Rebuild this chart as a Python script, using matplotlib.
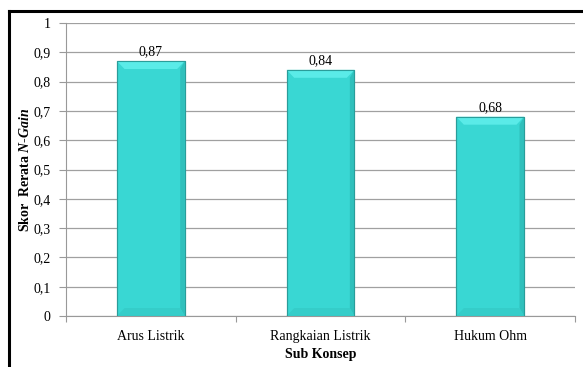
import matplotlib
matplotlib.use("Agg")
import matplotlib.pyplot as plt
from matplotlib.patches import Polygon
from matplotlib.lines import Line2D
from matplotlib.ticker import FuncFormatter, FixedLocator
import numpy as np

categories = ["Arus Listrik", "Rangkaian Listrik", "Hukum Ohm"]
scores = [0.87, 0.84, 0.68]
value_labels = ["0,87", "0,84", "0,68"]

plt.rcParams["font.family"] = ["Liberation Serif", "DejaVu Serif"]
plt.rcParams["mathtext.fontset"] = "custom"
plt.rcParams["mathtext.rm"] = "Liberation Serif"
plt.rcParams["mathtext.it"] = "Liberation Serif:italic"
plt.rcParams["mathtext.bf"] = "Liberation Serif:bold"
plt.rcParams["mathtext.bfit"] = "Liberation Serif:italic:bold"

fig = plt.figure(figsize=(5.83, 3.67), dpi=100)
ax = fig.add_axes([66 / 583, 51 / 367, 509 / 583, 293 / 367])

x = np.arange(len(categories))
width = 0.4
face = "#39d7d3"
ax.bar(x, scores, width=width, color=face, edgecolor="#2a9d9a", linewidth=0.8, zorder=3)

# bevel look: light top cap, darker right side
bx = 0.045
by = 0.027
for xi, v in zip(x, scores):
    l, r = xi - width / 2, xi + width / 2
    top = Polygon([(l, v), (r, v), (r - bx, v - by), (l + bx, v - by)],
                  closed=True, facecolor="#5aebe8", edgecolor="none", zorder=4)
    ax.add_patch(top)
    side = Polygon([(r, v), (r, 0), (r - bx * 0.6, by), (r - bx * 0.6, v - by)],
                   closed=True, facecolor="#30c0bc", edgecolor="none", zorder=4)
    ax.add_patch(side)
    bot = Polygon([(l, 0), (r, 0), (r - bx * 0.6, by), (l + bx, by)],
                  closed=True, facecolor="#35cdc9", edgecolor="none", zorder=4)
    ax.add_patch(bot)
    ax.add_patch(Polygon([(l, 0), (l, v), (r, v), (r, 0)], closed=True, fill=False,
                         edgecolor="#2a9d9a", linewidth=0.8, zorder=5))

for xi, v, lab in zip(x, scores, value_labels):
    ax.annotate(lab, (xi, v), xytext=(0, 2), textcoords="offset points",
                ha="center", va="bottom", fontsize=10)

ax.set_xlim(-0.5, len(categories) - 0.5)
ax.set_ylim(0, 1)
ax.set_yticks(np.arange(0, 1.01, 0.1))
ax.yaxis.set_major_formatter(FuncFormatter(
    lambda v, p: "0" if abs(v) < 1e-9 else ("1" if abs(v - 1) < 1e-9 else ("%.1f" % v).replace(".", ","))))
ax.set_xticks(x)
ax.set_xticklabels(categories)
ax.xaxis.set_minor_locator(FixedLocator(np.arange(-0.5, len(categories), 1.0)))
ax.tick_params(axis="x", which="major", length=0, pad=10, labelsize=10)
ax.tick_params(axis="x", which="minor", length=4, color="#999999", width=0.8)
ax.tick_params(axis="y", length=5, color="#999999", width=0.8, labelsize=10, pad=6)

ax.grid(axis="y", color="#a0a0a0", linewidth=0.9, zorder=0)
for s in ["top", "right"]:
    ax.spines[s].set_visible(False)
ax.spines["left"].set_color("#999999")
ax.spines["bottom"].set_color("#999999")
ax.spines["left"].set_linewidth(0.8)
ax.spines["bottom"].set_linewidth(0.8)

ax.set_xlabel("Sub Konsep", fontsize=10, fontweight="bold", labelpad=4)
ax.set_ylabel(r"Skor  Rerata $\mathbfit{N}$-$\mathbfit{Gain}$", fontsize=10, fontweight="bold")
ax.yaxis.set_label_coords(-0.066, 0.5)

# black frame on left and top
fig.add_artist(Line2D([9 / 583, 9 / 583], [0, 1 - 11 / 367], color="black", linewidth=2.2))
fig.add_artist(Line2D([9 / 583, 1], [1 - 11 / 367, 1 - 11 / 367], color="black", linewidth=2.2))

fig.savefig("out.png", dpi=100)
